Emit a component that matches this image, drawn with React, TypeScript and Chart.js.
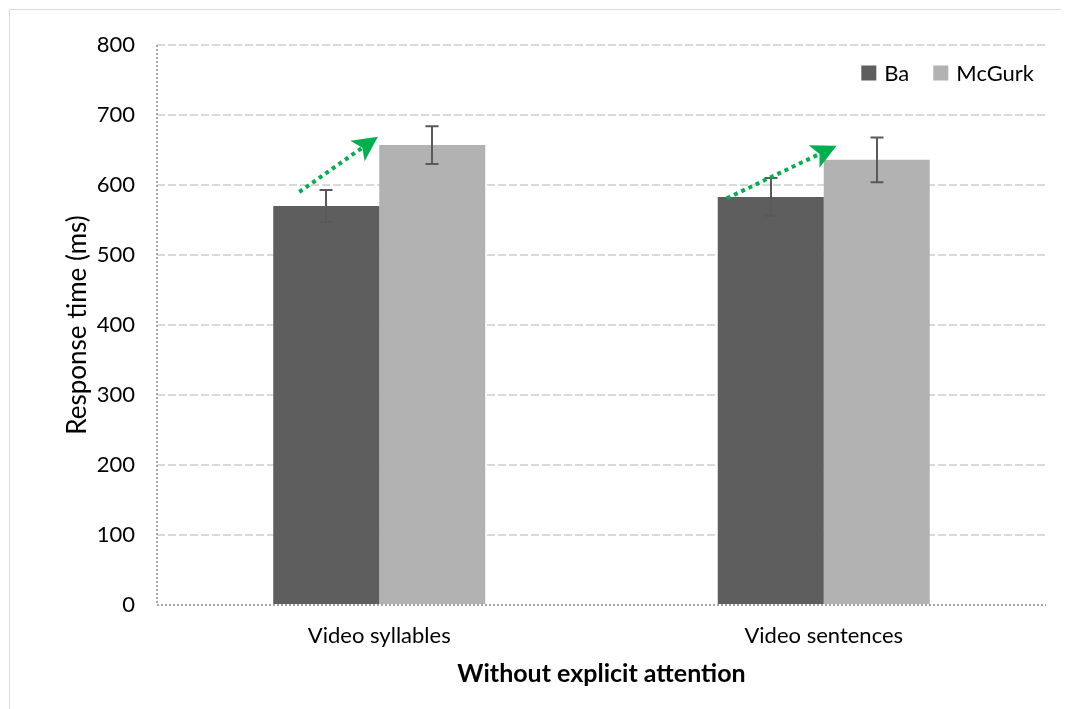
import React, { useEffect, useRef } from 'react';
import { Chart, registerables } from 'chart.js';

Chart.register(...registerables);

const categories = ['Video syllables', 'Video sentences'];
const seriesNames = ['Ba', 'McGurk'];
const baValues = [570, 583];
const mcgurkValues = [657, 636];
const baErrors = [23, 27];
const mcgurkErrors = [27, 32];
const yMin = 0;
const yMax = 800;
const yStep = 100;
const xAxisTitle = 'Without explicit attention';
const yAxisTitle = 'Response time (ms)';
// trend arrows: [category index, offset within category (fraction of category width), value]
const arrowStarts = [
  [0, -0.18, 590],
  [1, -0.218, 581],
];
const arrowEnds = [
  [0, -0.003, 669],
  [1, 0.029, 656],
];

const FONT = 'Lato, "Open Sans", sans-serif';
const BA_COLOR = '#5e5e5e';
const MCG_COLOR = '#b2b2b2';
const ERR_COLOR = '#595959';
const ARROW_COLOR = '#00b050';
const AXIS_COLOR = '#a6a6a6';
const GRID_COLOR = '#d9d9d9';

const errorArrays = [baErrors, mcgurkErrors];

const frameAndAxesPlugin = {
  id: 'frameAndAxes',
  beforeDraw(chart: any) {
    const { ctx, width, height } = chart;
    ctx.save();
    ctx.fillStyle = '#ffffff';
    ctx.fillRect(0, 0, width, height);
    ctx.strokeStyle = GRID_COLOR;
    ctx.lineWidth = 1;
    ctx.beginPath();
    ctx.moveTo(1.5, height);
    ctx.lineTo(1.5, 1.5);
    ctx.lineTo(width, 1.5);
    ctx.stroke();
    ctx.restore();
  },
  beforeDatasetsDraw(chart: any) {
    const { ctx, chartArea } = chart;
    ctx.save();
    ctx.strokeStyle = AXIS_COLOR;
    ctx.lineWidth = 2;
    ctx.setLineDash([2, 2]);
    ctx.beginPath();
    ctx.moveTo(chartArea.left, chartArea.top);
    ctx.lineTo(chartArea.left, chartArea.bottom);
    ctx.moveTo(chartArea.left, chartArea.bottom);
    ctx.lineTo(chartArea.right, chartArea.bottom);
    ctx.stroke();
    ctx.restore();
  },
};

const errorBarsPlugin = {
  id: 'errorBars',
  afterDatasetsDraw(chart: any) {
    const { ctx } = chart;
    const yScale = chart.scales.y;
    ctx.save();
    ctx.strokeStyle = ERR_COLOR;
    ctx.lineWidth = 2;
    chart.data.datasets.forEach((ds: any, di: number) => {
      const meta = chart.getDatasetMeta(di);
      meta.data.forEach((bar: any, i: number) => {
        const v = ds.data[i];
        const e = errorArrays[di][i];
        const x = Math.round(bar.x);
        const yt = yScale.getPixelForValue(v + e);
        const yb = yScale.getPixelForValue(v - e);
        ctx.beginPath();
        ctx.moveTo(x, yt);
        ctx.lineTo(x, yb);
        ctx.moveTo(x - 6.5, yt);
        ctx.lineTo(x + 6.5, yt);
        ctx.moveTo(x - 6.5, yb);
        ctx.lineTo(x + 6.5, yb);
        ctx.stroke();
      });
    });
    ctx.restore();
  },
};

const arrowsPlugin = {
  id: 'trendArrows',
  afterDatasetsDraw(chart: any) {
    const { ctx } = chart;
    const xs = chart.scales.x;
    const ys = chart.scales.y;
    const catW = xs.getPixelForValue(1) - xs.getPixelForValue(0);
    const toPx = (p: number[]) => [
      xs.getPixelForValue(p[0]) + p[1] * catW,
      ys.getPixelForValue(p[2]),
    ];
    ctx.save();
    arrowStarts.forEach((s, k) => {
      const [x1, y1] = toPx(s);
      const [x2, y2] = toPx(arrowEnds[k]);
      const ang = Math.atan2(y2 - y1, x2 - x1);
      const headLen = 25;
      const headHalf = 12.5;
      const notch = 6;
      const bx = x2 - Math.cos(ang) * (headLen - notch);
      const by = y2 - Math.sin(ang) * (headLen - notch);
      ctx.strokeStyle = ARROW_COLOR;
      ctx.lineWidth = 4;
      ctx.setLineDash([4, 4]);
      ctx.beginPath();
      ctx.moveTo(x1, y1);
      ctx.lineTo(bx, by);
      ctx.stroke();
      ctx.setLineDash([]);
      const hx = x2 - Math.cos(ang) * headLen;
      const hy = y2 - Math.sin(ang) * headLen;
      const px = -Math.sin(ang) * headHalf;
      const py = Math.cos(ang) * headHalf;
      ctx.fillStyle = ARROW_COLOR;
      ctx.beginPath();
      ctx.moveTo(x2, y2);
      ctx.lineTo(hx + px, hy + py);
      ctx.lineTo(bx, by);
      ctx.lineTo(hx - px, hy - py);
      ctx.closePath();
      ctx.fill();
    });
    ctx.restore();
  },
};

const legendPlugin = {
  id: 'customLegend',
  afterDraw(chart: any) {
    const { ctx, chartArea } = chart;
    const datasets = chart.data.datasets;
    ctx.save();
    ctx.font = `22px ${FONT}`;
    ctx.textBaseline = 'middle';
    ctx.textAlign = 'left';
    const box = 15;
    const gapBoxText = 8;
    const gapItems = 24;
    const widths = datasets.map((d: any) => box + gapBoxText + ctx.measureText(d.label).width);
    const total = widths.reduce((a: number, b: number) => a + b, 0) + gapItems * (datasets.length - 1);
    let x = chartArea.right - 12 - total;
    const cy = chartArea.top + 28;
    datasets.forEach((d: any, i: number) => {
      ctx.fillStyle = d.backgroundColor;
      ctx.fillRect(x, cy - box / 2, box, box);
      ctx.fillStyle = '#000000';
      ctx.fillText(d.label, x + box + gapBoxText, cy + 1);
      x += widths[i] + gapItems;
    });
    ctx.restore();
  },
};

export default function App() {
  const ref = useRef<HTMLCanvasElement | null>(null);
  useEffect(() => {
    if (!ref.current) return;
    const chart = new Chart(ref.current, {
      type: 'bar',
      data: {
        labels: categories,
        datasets: [
          {
            label: seriesNames[0],
            data: baValues,
            backgroundColor: BA_COLOR,
            categoryPercentage: 0.477,
            barPercentage: 1,
          },
          {
            label: seriesNames[1],
            data: mcgurkValues,
            backgroundColor: MCG_COLOR,
            categoryPercentage: 0.477,
            barPercentage: 1,
          },
        ],
      },
      options: {
        responsive: false,
        animation: false,
        layout: { padding: { left: 0, top: 37, right: 23, bottom: 0 } },
        plugins: {
          legend: { display: false },
          tooltip: { enabled: false },
        },
        scales: {
          x: {
            grid: { display: false, drawTicks: false },
            border: { display: false },
            ticks: {
              color: '#000000',
              font: { family: FONT, size: 22 },
              padding: 18,
            },
            title: {
              display: true,
              text: xAxisTitle,
              color: '#000000',
              font: { family: FONT, size: 25, weight: 'bold' },
              padding: { top: 0, bottom: 20 },
            },
            afterFit(scale: any) {
              scale.height = 104;
            },
          },
          y: {
            min: yMin,
            max: yMax,
            ticks: {
              stepSize: yStep,
              color: '#000000',
              font: { family: FONT, size: 22 },
              padding: 22,
            },
            grid: {
              drawTicks: false,
              lineWidth: 2,
              color: (c: any) => (c.tick && c.tick.value === 0 ? 'rgba(0,0,0,0)' : GRID_COLOR),
            },
            border: { display: false, dash: [8, 3] },
            title: {
              display: true,
              text: yAxisTitle,
              color: '#000000',
              font: { family: FONT, size: 26 },
              padding: { top: 54, bottom: 0 },
            },
            afterFit(scale: any) {
              scale.width = 149;
            },
          },
        },
      },
      plugins: [frameAndAxesPlugin, errorBarsPlugin, arrowsPlugin, legendPlugin],
    } as any);
    return () => chart.destroy();
  }, []);
  return (
    <div style={{ width: 1061, height: 701, overflow: 'hidden' }}>
      <canvas ref={ref} width={1061} height={701} style={{ display: 'block' }} />
    </div>
  );
}
